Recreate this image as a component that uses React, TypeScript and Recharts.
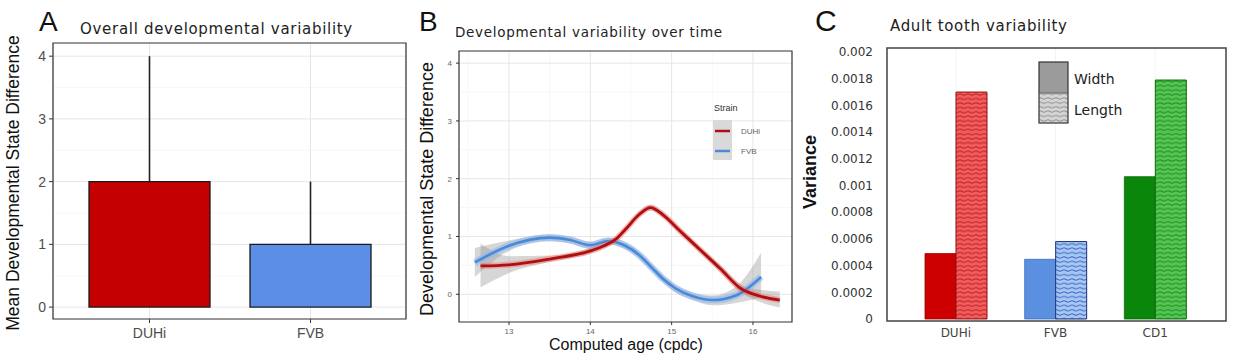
import React from "react";
import {
  BarChart,
  Bar,
  Cell,
  ErrorBar,
  ComposedChart,
  Line,
  Area,
  XAxis,
  YAxis,
  CartesianGrid,
  ReferenceArea,
  Legend,
  Label,
} from "recharts";

const sans = "'Liberation Sans', Arial, sans-serif";
const deja = "'DejaVu Sans', Verdana, sans-serif";

// panel A - overall developmental variability
const strainsA = ["DUHi", "FVB"];
const meanDiffA = [2, 1];
const upperDiffA = [4, 2];
const colorsA = ["#c40000", "#5b8fe6"];
const ticksA = [0, 1, 2, 3, 4];

// panel B - variability over time (smoothed fits + ribbon)
const duhiAge = [12.65, 13.0, 13.5, 14.0, 14.17, 14.31, 14.43, 14.6, 14.74, 14.89, 15.1, 15.35, 15.6, 15.85, 16.08, 16.33];
const duhiDiff = [0.49, 0.51, 0.61, 0.75, 0.84, 0.95, 1.12, 1.38, 1.5, 1.38, 1.1, 0.77, 0.44, 0.1, -0.03, -0.1];
const duhiLow = [0.12, 0.37, 0.56, 0.7, 0.79, 0.9, 1.07, 1.33, 1.45, 1.33, 1.05, 0.72, 0.38, 0.03, -0.13, -0.23];
const duhiHigh = [0.88, 0.66, 0.67, 0.8, 0.89, 1.0, 1.17, 1.43, 1.55, 1.43, 1.15, 0.82, 0.5, 0.17, 0.08, 0.05];

const fvbAge = [12.58, 13.0, 13.5, 13.75, 14.0, 14.22, 14.43, 14.6, 14.75, 14.9, 15.05, 15.25, 15.5, 15.79, 16.1];
const fvbDiff = [0.55, 0.84, 0.98, 0.94, 0.85, 0.92, 0.84, 0.68, 0.47, 0.26, 0.1, -0.03, -0.1, -0.02, 0.3];
const fvbLow = [0.3, 0.75, 0.92, 0.88, 0.79, 0.86, 0.78, 0.62, 0.41, 0.2, 0.03, -0.1, -0.19, -0.15, -0.05];
const fvbHigh = [0.8, 0.93, 1.04, 1.0, 0.91, 0.98, 0.9, 0.74, 0.53, 0.32, 0.16, 0.04, -0.02, 0.13, 0.72];

const ticksBx = [13, 14, 15, 16];
const ticksBy = [0, 1, 2, 3, 4];

// panel C - adult tooth variability
const strainsC = ["DUHi", "FVB", "CD1"];
const widthVar = [0.00049, 0.000447, 0.001066];
const lengthVar = [0.0017, 0.00058, 0.00179];
const ticksC = [0, 0.0002, 0.0004, 0.0006, 0.0008, 0.001, 0.0012, 0.0014, 0.0016, 0.0018, 0.002];

const widthFill = ["#cc0000", "#5b8fe0", "#0a870a"];
const widthEdge = ["#a00000", "#3d6fc0", "#066806"];
const lengthFill = ["#f25c5c", "#a8c7f2", "#55c455"];
const lengthWave = ["#b81c1c", "#2f5fbf", "#178a17"];
const lengthEdge = ["#8f1010", "#1c2f78", "#0f6a0f"];

const dataA = strainsA.map((s, i) => ({
  strain: s,
  mean: meanDiffA[i],
  err: [0, upperDiffA[i] - meanDiffA[i]],
}));

const duhiData = duhiAge.map((a, i) => ({ age: a, diff: duhiDiff[i], band: [duhiLow[i], duhiHigh[i]] }));
const fvbData = fvbAge.map((a, i) => ({ age: a, diff: fvbDiff[i], band: [fvbLow[i], fvbHigh[i]] }));

const dataC = strainsC.map((s, i) => ({ strain: s, width: widthVar[i], length: lengthVar[i] }));

const fmtC = (v: number) => (v === 0 ? "0" : String(+v.toFixed(4)));

function WavePattern({ id, base, line }: { id: string; base: string; line: string }) {
  return (
    <pattern id={id} patternUnits="userSpaceOnUse" width={8} height={4.4}>
      <rect width={8} height={4.4} fill={base} />
      <path d="M0 2.2 Q2 0.9 4 2.2 T8 2.2" stroke={line} strokeWidth={0.9} fill="none" />
    </pattern>
  );
}

function PanelA() {
  return (
    <BarChart
      width={410}
      height={360}
      data={dataA}
      margin={{ top: 43, right: 4, bottom: 0, left: 0 }}
      barCategoryGap={20}
    >
      <CartesianGrid vertical={false} horizontalValues={[0.5, 1.5, 2.5, 3.5]} stroke="#f3f3f3" strokeWidth={0.7} />
      <CartesianGrid horizontalValues={ticksA} stroke="#e6e6e6" />
      <XAxis
        dataKey="strain"
        padding={{ left: 16, right: 15 }}
        height={41}
        axisLine={false}
        tickSize={4}
        tickMargin={5}
        tickLine={{ stroke: "#333" }}
        tick={{ fontSize: 14, fill: "#4d4d4d", fontFamily: sans }}
      />
      <XAxis xAxisId="frame" type="number" hide />
      <YAxis
        width={53}
        domain={[-0.19, 4.21]}
        ticks={ticksA}
        allowDataOverflow
        axisLine={false}
        tickSize={4}
        tickMargin={3}
        tickLine={{ stroke: "#333" }}
        tick={{ fontSize: 14, fill: "#4d4d4d", fontFamily: sans }}
      >
        <Label
          content={() => (
            <text x={19} y={183} transform="rotate(-90 19 183)" textAnchor="middle" fontSize={17.5} fontFamily={sans} fill="#111">
              Mean Developmental State Difference
            </text>
          )}
        />
      </YAxis>
      <ReferenceArea xAxisId="frame" y1={-0.19} y2={4.21} fill="none" stroke="#333" strokeWidth={1.2} />
      <Bar dataKey="mean" stroke="#1a1a1a" strokeWidth={1.3} isAnimationActive={false}>
        {dataA.map((d, i) => (
          <Cell key={d.strain} fill={colorsA[i]} />
        ))}
        <ErrorBar dataKey="err" width={0} stroke="#222" strokeWidth={1.6} direction="y" />
      </Bar>
    </BarChart>
  );
}

function LegendB() {
  return (
    <svg width={80} height={64}>
      <text x={1} y={11} fontSize={9} fontFamily={sans} fill="#333">Strain</text>
      <rect x={0} y={20} width={19} height={40} fill="#d9d9d9" />
      <line x1={2} x2={17} y1={31} y2={31} stroke="#b00f0f" strokeWidth={2.5} />
      <line x1={2} x2={17} y1={51} y2={51} stroke="#4a88d8" strokeWidth={2.5} />
      <text x={28} y={34} fontSize={8} fontFamily={sans} fill="#666">DUHi</text>
      <text x={28} y={54} fontSize={8} fontFamily={sans} fill="#666">FVB</text>
    </svg>
  );
}

function PanelB() {
  return (
    <ComposedChart width={400} height={360} margin={{ top: 51, right: 18, bottom: 0, left: 0 }}>
      <CartesianGrid
        horizontalValues={[0.5, 1.5, 2.5, 3.5]}
        verticalValues={[12.5, 13.5, 14.5, 15.5]}
        stroke="#f3f3f3"
        strokeWidth={0.7}
      />
      <CartesianGrid horizontalValues={ticksBy} verticalValues={ticksBx} stroke="#e6e6e6" />
      <XAxis
        type="number"
        dataKey="age"
        domain={[12.385, 16.48]}
        ticks={ticksBx}
        allowDataOverflow
        height={38}
        axisLine={false}
        tickSize={3}
        tickMargin={3}
        tickLine={{ stroke: "#333" }}
        tick={{ fontSize: 8, fill: "#666", fontFamily: sans }}
      >
        <Label
          content={() => (
            <text x={216} y={350} textAnchor="middle" fontSize={16} fontFamily={sans} fill="#111">
              Computed age (cpdc)
            </text>
          )}
        />
      </XAxis>
      <YAxis
        width={49}
        domain={[-0.48, 4.21]}
        ticks={ticksBy}
        allowDataOverflow
        axisLine={false}
        tickSize={3}
        tickMargin={4}
        tickLine={{ stroke: "#333" }}
        tick={{ fontSize: 8, fill: "#666", fontFamily: sans }}
      >
        <Label
          content={() => (
            <text x={23} y={189} transform="rotate(-90 23 189)" textAnchor="middle" fontSize={18} fontFamily={sans} fill="#111">
              Developmental State Difference
            </text>
          )}
        />
      </YAxis>
      <ReferenceArea x1={12.385} x2={16.48} y1={-0.48} y2={4.21} fill="none" stroke="#333" strokeWidth={1.2} />
      <Area data={fvbData} dataKey="band" type="monotone" stroke="none" fill="#999" fillOpacity={0.4} isAnimationActive={false} />
      <Area data={duhiData} dataKey="band" type="monotone" stroke="none" fill="#999" fillOpacity={0.4} isAnimationActive={false} />
      <Line data={fvbData} dataKey="diff" type="monotone" stroke="#8cb8f0" strokeOpacity={0.6} strokeWidth={7} dot={false} isAnimationActive={false} />
      <Line data={fvbData} dataKey="diff" type="monotone" stroke="#4a88d8" strokeWidth={2.6} dot={false} isAnimationActive={false} />
      <Line data={duhiData} dataKey="diff" type="monotone" stroke="#ff5050" strokeOpacity={0.35} strokeWidth={6} dot={false} isAnimationActive={false} />
      <Line data={duhiData} dataKey="diff" type="monotone" stroke="#b00f0f" strokeWidth={2.8} dot={false} isAnimationActive={false} />
      <Legend
        layout="horizontal"
        verticalAlign="middle"
        align="center"
        wrapperStyle={{ left: 303, top: 100, width: 80, height: 64 }}
        content={() => <LegendB />}
      />
    </ComposedChart>
  );
}

function LegendC() {
  return (
    <svg width={110} height={64}>
      <defs>
        <WavePattern id="waveLegend" base="#d4d4d4" line="#8c8c8c" />
      </defs>
      <rect x={1} y={1} width={29} height={31} fill="#9b9b9b" />
      <rect x={1} y={32} width={29} height={30} fill="url(#waveLegend)" />
      <rect x={1} y={1} width={29} height={61} fill="none" stroke="#333" strokeWidth={1.2} />
      <line x1={1} x2={30} y1={32} y2={32} stroke="#555" strokeWidth={0.8} />
      <text x={36} y={23} fontSize={14} fontFamily={deja} fill="#222">Width</text>
      <text x={36} y={54} fontSize={14} fontFamily={deja} fill="#222">Length</text>
    </svg>
  );
}

function PanelC() {
  return (
    <BarChart
      width={444}
      height={360}
      data={dataC}
      margin={{ top: 48, right: 8, bottom: 0, left: 0 }}
      barCategoryGap={19}
      barGap={0}
    >
      <defs>
        {strainsC.map((s, i) => (
          <WavePattern key={s} id={`wave${i}`} base={lengthFill[i]} line={lengthWave[i]} />
        ))}
      </defs>
      <CartesianGrid horizontal={false} stroke="#f3f3f3" />
      <XAxis
        dataKey="strain"
        padding={{ left: 19, right: 21 }}
        height={39}
        axisLine={false}
        tickLine={false}
        tickSize={0}
        tickMargin={7}
        tick={{ fontSize: 12, fill: "#444", fontFamily: deja }}
      />
      <XAxis xAxisId="frame" type="number" hide />
      <YAxis
        width={97}
        domain={[-0.000015, 0.00203]}
        ticks={ticksC}
        allowDataOverflow
        tickFormatter={fmtC}
        axisLine={false}
        tickLine={false}
        tickSize={0}
        tickMargin={14}
        tick={{ fontSize: 12, fill: "#333", fontFamily: deja }}
      >
        <Label
          content={() => (
            <text x={26} y={172} transform="rotate(-90 26 172)" textAnchor="middle" fontSize={18} fontWeight="bold" fontFamily={sans} fill="#111">
              Variance
            </text>
          )}
        />
      </YAxis>
      <ReferenceArea xAxisId="frame" y1={-0.000015} y2={0.00203} fill="none" stroke="#444" strokeWidth={1.5} />
      <Bar dataKey="width" strokeWidth={0.8} isAnimationActive={false}>
        {dataC.map((d, i) => (
          <Cell key={d.strain} fill={widthFill[i]} stroke={widthEdge[i]} />
        ))}
      </Bar>
      <Bar dataKey="length" strokeWidth={1} isAnimationActive={false}>
        {dataC.map((d, i) => (
          <Cell key={d.strain} fill={`url(#wave${i})`} stroke={lengthEdge[i]} />
        ))}
      </Bar>
      <Legend
        layout="horizontal"
        verticalAlign="middle"
        align="center"
        wrapperStyle={{ left: 248, top: 61, width: 110, height: 64 }}
        content={() => <LegendC />}
      />
    </BarChart>
  );
}

export default function App() {
  return (
    <div style={{ position: "absolute", left: 0, top: 0, width: 1234, height: 360, background: "#fff", overflow: "hidden" }}>
      <svg width={1234} height={360} style={{ position: "absolute", left: 0, top: 0 }}>
        <text x={39} y={31} fontSize={28} fontFamily={sans} fill="#111">A</text>
        <text x={80} y={34} fontSize={15} letterSpacing={0.7} fontFamily={deja} fill="#222">Overall developmental variability</text>
        <text x={419} y={31} fontSize={28} fontFamily={sans} fill="#111">B</text>
        <text x={455} y={37} fontSize={13.5} letterSpacing={0.7} fontFamily={deja} fill="#222">Developmental variability over time</text>
        <text x={815} y={31} fontSize={30} fontFamily={sans} fill="#111">C</text>
        <text x={890} y={31} fontSize={15} letterSpacing={0.65} fontFamily={deja} fill="#222">Adult tooth variability</text>
      </svg>
      <div style={{ position: "absolute", left: 0, top: 0 }}>
        <PanelA />
      </div>
      <div style={{ position: "absolute", left: 410, top: 0 }}>
        <PanelB />
      </div>
      <div style={{ position: "absolute", left: 790, top: 0 }}>
        <PanelC />
      </div>
    </div>
  );
}
